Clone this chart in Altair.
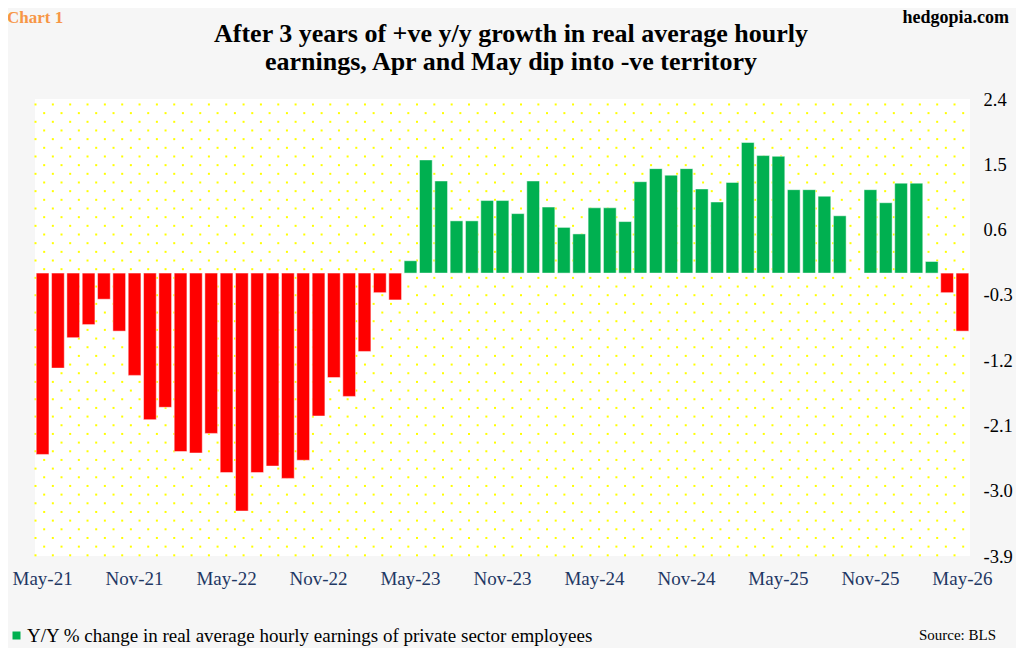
import altair as alt
import numpy as np
import pandas as pd

# Y/Y % change in real average hourly earnings, May-21 .. May-26 (Oct-25 missing)
months = pd.date_range("2021-05-01", "2026-05-01", freq="MS").strftime("%b-%y").tolist()
values = [
    -2.50, -1.31, -0.89, -0.71, -0.36, -0.80, -1.41, -2.02, -1.85, -2.46, -2.48, -2.21,
    -2.75, -3.28, -2.75, -2.66, -2.83, -2.58, -1.97, -1.44, -1.70, -1.08, -0.27, -0.37,
    0.17, 1.56, 1.27, 0.72, 0.72, 1.00, 1.00, 0.82, 1.27, 0.91, 0.63, 0.54,
    0.90, 0.90, 0.71, 1.26, 1.44, 1.35, 1.44, 1.16, 0.98, 1.25, 1.80, 1.62,
    1.61, 1.15, 1.15, 1.06, 0.79, None, 1.15, 0.97, 1.24, 1.24, 0.16, -0.27,
    -0.80,
]
label_months = months[::6]
y_ticks = [-3.9, -3.0, -2.1, -1.2, -0.3, 0.6, 1.5, 2.4]

title_lines = ["After 3 years of +ve y/y growth in real average hourly",
               "earnings, Apr and May dip into -ve territory"]
legend_label = ["Y/Y % change in real average hourly earnings of private sector employees"]
source_label = ["Source: BLS"]
tag_label = ["Chart 1"]
site_label = ["hedgopia.com"]

W, H = 935, 457
SERIF = "Liberation Serif"

df = pd.DataFrame({"month": months, "value": values})

# yellow dotted background pattern (pixel lattice, decoration only)
step = 8.67
dots = []
for r in range(int(H / step) + 1):
    yy = 0.7 + r * step
    x0 = 0.5 + (r % 2) * step
    for xx in np.arange(x0, W, 2 * step):
        dots.append((xx, yy))
dots_df = pd.DataFrame(dots, columns=["px", "py"])

pattern = (
    alt.Chart(dots_df)
    .mark_square(size=4, color="#ffff00", opacity=1)
    .encode(
        x=alt.X("px:Q", scale=alt.Scale(domain=[0, W], nice=False), axis=None),
        y=alt.Y("py:Q", scale=alt.Scale(domain=[0, H], nice=False), axis=None),
    )
)

bars = (
    alt.Chart(df)
    .mark_bar(stroke="#ffffff", strokeWidth=0.8, strokeOpacity=0.6)
    .encode(
        x=alt.X("month:N", sort=None,
                scale=alt.Scale(domain=months, paddingInner=0.17, paddingOuter=0.08),
                axis=alt.Axis(values=label_months, labelAngle=0, ticks=False, domain=False,
                              labelFont=SERIF, labelFontSize=19, labelColor="#1F3864",
                              labelPadding=13, labelOverlap=False, title=None)),
        y=alt.Y("value:Q",
                scale=alt.Scale(domain=[-3.9, 2.4], nice=False, zero=False),
                axis=alt.Axis(orient="right", values=y_ticks, format=".1f",
                              labelExpr="replace(datum.label, '\u2212', '-')",
                              ticks=False, domain=False, grid=False,
                              labelFont=SERIF, labelFontSize=18.5, labelColor="black",
                              labelPadding=13, title=None)),
        color=alt.condition(alt.datum.value >= 0, alt.value("#00B050"), alt.value("#FF0000")),
    )
)

title = alt.layer(*[
    alt.Chart(pd.DataFrame({"t": [line]}))
    .mark_text(font=SERIF, fontSize=26, fontWeight="bold", color="black", baseline="alphabetic")
    .encode(text="t:N", x=alt.value(476), y=alt.value(yy))
    for line, yy in zip(title_lines, [-57, -29])
])

tag = (
    alt.Chart(pd.DataFrame({"t": tag_label}))
    .mark_text(font=SERIF, fontSize=17, fontWeight="bold", color="#F79646",
               align="left", baseline="alphabetic")
    .encode(text="t:N", x=alt.value(-28), y=alt.value(-76))
)

site = (
    alt.Chart(pd.DataFrame({"t": site_label}))
    .mark_text(font=SERIF, fontSize=18, fontWeight="bold", color="black",
               align="right", baseline="alphabetic")
    .encode(text="t:N", x=alt.value(974), y=alt.value(-76))
)

legend_sym = (
    alt.Chart(pd.DataFrame({"t": legend_label}))
    .mark_square(size=64, color="#00B050", opacity=1)
    .encode(x=alt.value(-18.5), y=alt.value(536.5))
)

legend_txt = (
    alt.Chart(pd.DataFrame({"t": legend_label}))
    .mark_text(font=SERIF, fontSize=19, color="black", align="left", baseline="alphabetic")
    .encode(text="t:N", x=alt.value(-8), y=alt.value(543))
)

source = (
    alt.Chart(pd.DataFrame({"t": source_label}))
    .mark_text(font=SERIF, fontSize=15, color="black", align="right", baseline="alphabetic")
    .encode(text="t:N", x=alt.value(961), y=alt.value(541))
)

chart = (
    alt.layer(pattern, bars, title, tag, site, legend_sym, legend_txt, source)
    .resolve_scale(x="independent", y="independent")
    .properties(
        width=W, height=H,
        autosize=alt.AutoSizeParams(type="none"),
        padding={"left": 27, "top": 91, "right": 46, "bottom": 92},
        background="#f6f6f6",
    )
    .configure_view(fill="white", stroke=None)
)

chart.save("out.html", embed_options={"renderer": "svg", "actions": False})
